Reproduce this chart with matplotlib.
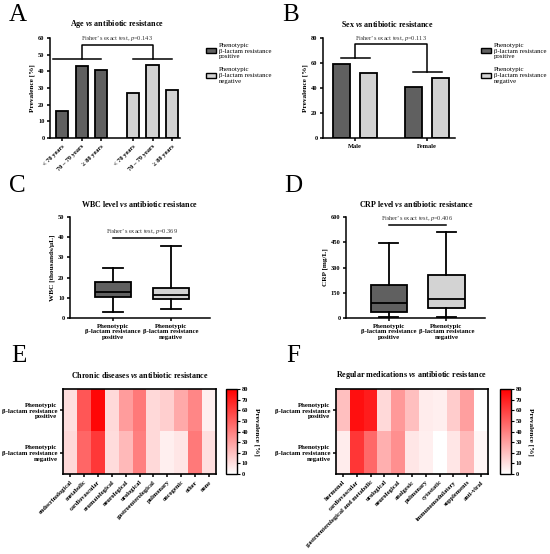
import matplotlib
matplotlib.use('Agg')
import matplotlib.pyplot as plt
import numpy as np
from matplotlib.colors import LinearSegmentedColormap
from matplotlib.patches import Patch

plt.rcParams['font.family'] = ['Liberation Serif', 'DejaVu Serif']
plt.rcParams['mathtext.fontset'] = 'custom'
plt.rcParams['mathtext.rm'] = 'Liberation Serif'
plt.rcParams['mathtext.it'] = 'Liberation Serif:italic'
plt.rcParams['mathtext.bf'] = 'Liberation Serif:bold'
plt.rcParams['mathtext.bfit'] = 'Liberation Serif:italic:bold'
plt.rcParams['axes.linewidth'] = 1.1
plt.rcParams['xtick.major.width'] = 1.1
plt.rcParams['ytick.major.width'] = 1.1
plt.rcParams['xtick.major.size'] = 2.5
plt.rcParams['ytick.major.size'] = 2.5
plt.rcParams['xtick.major.pad'] = 1.5
plt.rcParams['ytick.major.pad'] = 1.5

# ---------------- data ----------------
age_groups = ['< 70 years', '70 – 79 years', '≥ 80 years']
age_pos = [16, 43, 41]
age_neg = [27, 44, 29]
age_p = 0.143

sex_groups = ['Male', 'Female']
sex_pos = [59, 41]
sex_neg = [52, 48]
sex_p = 0.113

group_labels = ['Phenotypic\nβ-lactam resistance\npositive',
                'Phenotypic\nβ-lactam resistance\nnegative']

wbc_pos = dict(whislo=2.8, q1=10.2, med=12.9, q3=17.8, whishi=24.8)
wbc_neg = dict(whislo=4.5, q1=9.2, med=11.5, q3=14.7, whishi=35.8)
wbc_p = 0.369

crp_pos = dict(whislo=4, q1=38, med=91, q3=198, whishi=444)
crp_neg = dict(whislo=8, q1=57, med=113, q3=257, whishi=513)
crp_p = 0.406

disease_labels = ['endocrinological', 'metabolic', 'cardiovascular', 'reumatological',
                  'neurological', 'urological', 'gastroenterological', 'pulmonary',
                  'oncogenic', 'other', 'none']
disease_pos = [10, 53, 78, 12, 31, 42, 12, 15, 27, 38, 5]
disease_neg = [12, 48, 62, 11, 22, 40, 12, 5, 8, 42, 10]

med_labels = ['hormonal', 'cardiovascular', 'gastroenterological and metabolic', 'urological',
              'neurological', 'analgesic', 'pulmonary', 'cytostatic', 'immunomodulatory',
              'supplements', 'anti-viral']
med_pos = [20, 75, 71, 12, 32, 20, 6, 5, 16, 30, 0]
med_neg = [6, 63, 47, 25, 35, 8, 5, 0, 8, 22, 3]

# ---------------- style ----------------
DARK = '#606060'
LIGHT = '#d3d3d3'
W, H = 550, 554
fig = plt.figure(figsize=(W / 100, H / 100), dpi=100)


def rect(l, t, r, b):
    return [l / W, 1 - b / H, (r - l) / W, (b - t) / H]


TICK_FS = 4.6
TITLE_FS = 5.8
LAB_FS = 5.2
NOTE_FS = 4.6
BAR_LW = 1.3


def style_axes(ax):
    for s in ['top', 'right']:
        ax.spines[s].set_visible(False)
    ax.tick_params(labelsize=TICK_FS)
    for lab in ax.get_xticklabels() + ax.get_yticklabels():
        lab.set_fontweight('bold')


def letter(x, y, s):
    fig.text(x / W, 1 - y / H, s, fontsize=18, ha='left', va='baseline')


def title(xc, y, s):
    fig.text(xc / W, 1 - y / H, s, fontsize=TITLE_FS, fontweight='bold', ha='center', va='center')


def legend(x, y):
    leg = fig.legend([Patch(facecolor=DARK, edgecolor='black', lw=1.0),
                      Patch(facecolor=LIGHT, edgecolor='black', lw=1.0)],
                     group_labels, loc='upper left', bbox_to_anchor=(x / W, 1 - y / H),
                     frameon=False, fontsize=4.9, handlelength=1.5, handleheight=0.7,
                     handletextpad=0.45, labelspacing=1.2, borderaxespad=0)
    return leg


fisher = lambda p: "Fisher’s exact test, $\\mathit{p}$=" + f"{p:.3f}"

# ---------------- A ----------------
axA = fig.add_axes(rect(50, 38, 180, 138))
xa1 = np.arange(len(age_pos))
xa2 = np.arange(len(age_neg)) + len(age_pos) + 0.64
axA.bar(xa1, age_pos, width=0.62, color=DARK, edgecolor='black', linewidth=BAR_LW)
axA.bar(xa2, age_neg, width=0.62, color=LIGHT, edgecolor='black', linewidth=BAR_LW)
axA.set_xlim(-0.62, 6.05)
axA.set_ylim(0, 60)
axA.set_yticks(np.arange(0, 61, 10))
axA.set_xticks(np.r_[xa1, xa2])
axA.set_xticklabels(age_groups * 2, rotation=45, ha='right', rotation_mode='anchor')
axA.set_ylabel('Prevalence [%]', fontsize=LAB_FS, fontweight='bold', labelpad=2)
style_axes(axA)
lowA, topA = 47.5, 56
c1, c2 = xa1.mean(), xa2.mean()
axA.plot([xa1[0] - 0.45, xa1[-1]], [lowA, lowA], color='black', lw=1.1, clip_on=False)
axA.plot([xa2[0], xa2[-1]], [lowA, lowA], color='black', lw=1.1, clip_on=False)
axA.plot([c1, c1, c2, c2], [lowA, topA, topA, lowA], color='black', lw=1.1, clip_on=False)
axA.text((c1 + c2) / 2, topA + 1, fisher(age_p), fontsize=NOTE_FS, ha='center', va='bottom', color='#333333')
legend(203, 40)
letter(9, 21, 'A')
title(117, 24, 'Age $\\mathbfit{vs}$ antibiotic resistance')

# ---------------- B ----------------
axB = fig.add_axes(rect(323, 38, 455, 138))
xb = np.arange(len(sex_groups))
axB.bar(xb - 0.19, sex_pos, width=0.235, color=DARK, edgecolor='black', linewidth=BAR_LW)
axB.bar(xb + 0.19, sex_neg, width=0.235, color=LIGHT, edgecolor='black', linewidth=BAR_LW)
axB.set_xlim(-0.445, 1.39)
axB.set_ylim(0, 80)
axB.set_yticks(np.arange(0, 81, 20))
axB.set_xticks(xb)
axB.set_xticklabels(sex_groups)
axB.set_ylabel('Prevalence [%]', fontsize=LAB_FS, fontweight='bold', labelpad=2)
style_axes(axB)
lowB = [64, 53]
topB = 75
for i in range(2):
    axB.plot([xb[i] - 0.19, xb[i] + 0.21], [lowB[i], lowB[i]], color='black', lw=1.1)
axB.plot([xb[0], xb[0], xb[1], xb[1]], [lowB[0], topB, topB, lowB[1]], color='black', lw=1.1)
axB.text(0.5, topB + 1.3, fisher(sex_p), fontsize=NOTE_FS, ha='center', va='bottom', color='#333333')
legend(478, 40)
letter(282, 21, 'B')
title(387, 24, 'Sex $\\mathbfit{vs}$ antibiotic resistance')


# ---------------- C / D ----------------
def boxpanel(box, stats, ylim, yticks, ylabel, sig_y, p):
    ax = fig.add_axes(rect(*box))
    bp = ax.bxp(stats, positions=[0, 1], widths=0.63, patch_artist=True, showfliers=False,
                boxprops=dict(edgecolor='black', linewidth=1.3),
                whiskerprops=dict(color='black', linewidth=1.3),
                capprops=dict(color='black', linewidth=1.3),
                medianprops=dict(color='black', linewidth=1.3), capwidths=0.34)
    bp['boxes'][0].set_facecolor(DARK)
    bp['boxes'][1].set_facecolor(LIGHT)
    ax.set_xlim(-0.74, 1.67)
    ax.set_ylim(*ylim)
    ax.set_yticks(yticks)
    ax.set_xticks([0, 1])
    ax.set_xticklabels(group_labels)
    ax.set_ylabel(ylabel, fontsize=LAB_FS, fontweight='bold', labelpad=2)
    style_axes(ax)
    ax.tick_params(axis='x', labelsize=TICK_FS + 0.3)
    ax.plot([0, 1], [sig_y, sig_y], color='black', lw=1.1)
    ax.text(0.5, sig_y + (ylim[1] - ylim[0]) * 0.02, fisher(p), fontsize=NOTE_FS,
            ha='center', va='bottom', color='#333333')
    return ax


boxpanel((70, 217, 210, 318), [wbc_pos, wbc_neg], (0, 50), np.arange(0, 51, 10),
         'WBC [thousands/μL]', 39.6, wbc_p)
letter(9, 192, 'C')
title(140, 204, 'WBC level $\\mathbfit{vs}$ antibiotic resistance')

boxpanel((346, 217, 485, 318), [crp_pos, crp_neg], (0, 600), np.arange(0, 601, 150),
         'CRP [mg/L]', 554, crp_p)
letter(284, 192, 'D')
title(416, 204, 'CRP level $\\mathbfit{vs}$ antibiotic resistance')

# ---------------- E / F ----------------
cmap = LinearSegmentedColormap.from_list('wr', ['#ffffff', '#ff0000'])


def heatpanel(box, cbox, labels, pos, neg):
    ax = fig.add_axes(rect(*box))
    data = np.array([pos, neg])
    im = ax.imshow(data, cmap=cmap, vmin=0, vmax=80, aspect='auto', interpolation='nearest')
    ax.set_xticks(np.arange(len(labels)))
    ax.set_xticklabels(labels, rotation=45, ha='right', rotation_mode='anchor',
                       fontsize=TICK_FS, fontweight='bold')
    ax.set_yticks([0, 1])
    ax.set_yticklabels(group_labels, fontsize=TICK_FS + 0.3, fontweight='bold',
                       multialignment='right')
    for s in ax.spines.values():
        s.set_linewidth(1.2)
    cax = fig.add_axes(rect(*cbox))
    cb = fig.colorbar(im, cax=cax, ticks=np.arange(0, 81, 10))
    cb.outline.set_linewidth(1.0)
    cax.tick_params(labelsize=TICK_FS, width=0.8, length=2)
    for lab in cax.get_yticklabels():
        lab.set_fontweight('bold')
    cb.set_label('Prevalence [%]', rotation=270, fontsize=LAB_FS, fontweight='bold', labelpad=8)
    return ax


heatpanel((63, 389, 216, 474), (226, 389, 237, 474), disease_labels, disease_pos, disease_neg)
letter(11, 362, 'E')
title(140, 375, 'Chronic diseases $\\mathbfit{vs}$ antibiotic resistance')

heatpanel((336, 389, 488, 474), (500, 389, 511, 474), med_labels, med_pos, med_neg)
letter(286, 362, 'F')
title(412, 375, 'Regular medications $\\mathbfit{vs}$ antibiotic resistance')

fig.savefig('out.png', dpi=100, facecolor='white')
